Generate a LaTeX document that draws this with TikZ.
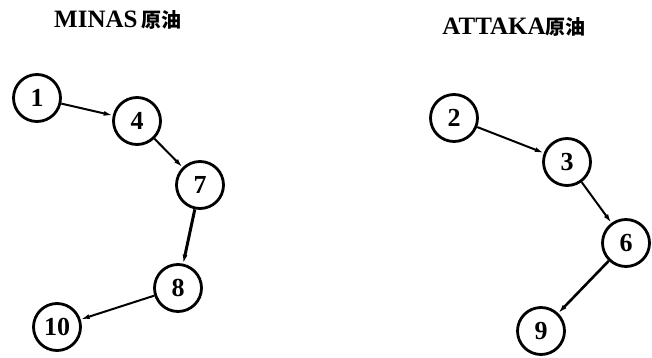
\documentclass[tikz,border=0pt]{standalone}
\usepackage{fontspec}
\setmainfont{Liberation Serif}
\newfontfamily\cjk{Noto Sans CJK SC}
\usetikzlibrary{arrows.meta}
\begin{document}
\begin{tikzpicture}[x=1pt,y=-1pt,
  crude/.style={circle,draw,line width=2.8pt,minimum size=47pt,inner sep=0pt,
    font=\fontsize{26}{26}\selectfont\bfseries},
  link/.style={line width=2pt,-{Latex[length=9pt,width=5pt]}},
  ttl/.style={font=\fontsize{25}{25}\selectfont\bfseries,inner sep=0pt}]
\useasboundingbox (0,0) rectangle (652,358);
\node[ttl] (t1) at (118,20) {MINAS\,{\cjk\fontsize{20}{20}\selectfont 原油}};
\node[ttl] (t2) at (514,27) {ATTAKA{\cjk\fontsize{20}{20}\selectfont 原油}};
\node[crude] (n1) at (37,98) {1};
\node[crude] (n4) at (137,121) {4};
\node[crude] (n7) at (200,185) {7};
\node[crude] (n8) at (178,288) {8};
\node[crude] (n10) at (57,327) {10};
\node[crude] (n2) at (454,118) {2};
\node[crude] (n3) at (567,162) {3};
\node[crude] (n6) at (626,243) {6};
\node[crude] (n9) at (541,331) {9};
\draw[link] (n1) -- (n4);
\draw[link] (n4) -- (n7);
\draw[link,line width=3pt] (n7) -- (n8);
\draw[link] (n8) -- (n10);
\draw[link] (n2) -- (n3);
\draw[link] (n3) -- (n6);
\draw[link,line width=2.6pt] (n6) -- (n9);
\end{tikzpicture}
\end{document}
